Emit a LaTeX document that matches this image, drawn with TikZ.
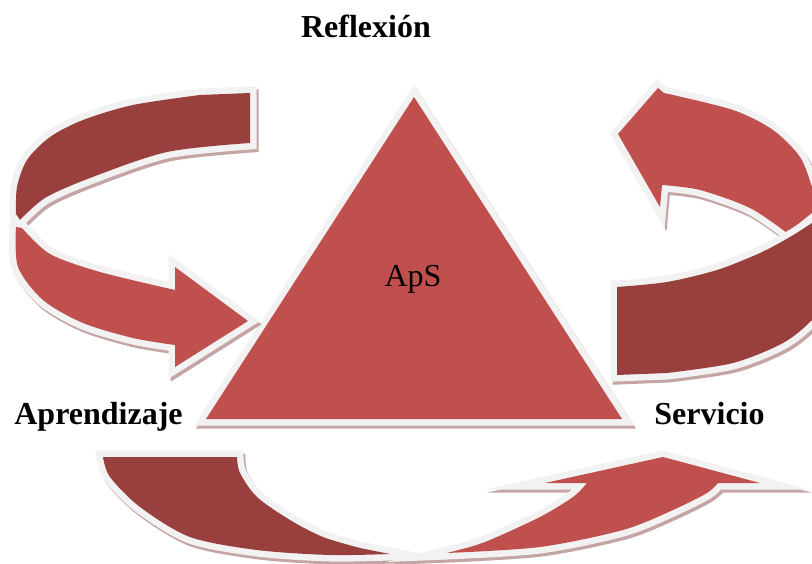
\documentclass[tikz,border=0pt]{standalone}
\usepackage{fontspec}
\setmainfont{Liberation Serif}
\definecolor{ribbonlight}{RGB}{192,80,77}
\definecolor{ribbondark}{RGB}{153,63,61}
\definecolor{rim}{RGB}{242,242,242}
\definecolor{drop}{RGB}{196,164,164}
\tikzset{
  lbl/.style={font=\fontsize{32}{38}\selectfont, text=black, inner sep=0pt, anchor=base},
  boldlbl/.style={lbl, font=\fontsize{32}{38}\selectfont\bfseries},
  rimline/.style={rim, line width=13, line join=miter, miter limit=10},
  dropline/.style={drop, line width=13, line join=miter, miter limit=10},
}
% a ribbon piece: drop shadow, light rim, coloured face
\newcommand\ribbon[2]{%
  \begin{scope}[shift={(2,3)}]
    \filldraw[dropline] #2;
  \end{scope}
  \draw[rimline] #2;
  \fill[#1] #2;
}
\begin{document}
\begin{tikzpicture}[x=1pt, y=-1pt]
\useasboundingbox (0,0) rectangle (812,564);
\clip (0,0) rectangle (812,564);

% central triangle
\ribbon{ribbonlight}{(414,97) -- (622,419) -- (206,419) -- cycle}
\coordinate (apex) at (414,97);

% upper left curved arrow (back band, then front band with head)
\ribbon{ribbondark}{(250,93) -- plot[smooth] coordinates {(250,143) (167,152) (90,178) (45,198) (20,220)} -- plot[smooth] coordinates {(16,214) (17,187) (27,160) (50,137) (83,120) (133,105) (200,95)} -- cycle}
\ribbon{ribbonlight}{plot[smooth] coordinates {(16,227) (18,267) (43,300) (83,323) (133,338) (175,345)} -- (175,367) -- (248,321) -- (175,267) -- plot[smooth] coordinates {(175,290) (100,272) (50,254) (22,228)} -- cycle}

% upper right curved arrow
\ribbon{ribbonlight}{(618,134) -- (658,88) -- plot[smooth] coordinates {(664,93) (733,110) (773,130) (800,157) (812,187) (818,208)} -- plot[smooth] coordinates {(787,233) (750,208) (700,190) (662,185)} -- (660,207) -- cycle}
\ribbon{ribbondark}{(617,375) -- plot[smooth] coordinates {(667,373) (733,363) (783,343) (812,320) (835,290)} -- plot[smooth] coordinates {(835,208) (812,223) (790,237) (760,253) (717,270) (667,282) (617,287)} -- cycle}

% lower curved arrow
\ribbon{ribbondark}{plot[smooth] coordinates {(103,457) (110,477) (140,507) (190,537) (257,550) (330,555) (390,554)} -- plot[smooth] coordinates {(360,548) (323,537) (290,520) (257,497) (240,473) (237,457)} -- cycle}
\ribbon{ribbonlight}{plot[smooth] coordinates {(447,553) (540,547) (623,530) (673,510) (707,493) (718,483)} -- (760,483) -- (663,457) -- (545,483) -- plot[smooth] coordinates {(587,483) (573,497) (540,517) (490,540) (470,547)} -- cycle}

% labels
\node[boldlbl] (refl) at (366,38) {Reflexión};
\node[boldlbl] (apr) at (98.5,424) {Aprendizaje};
\node[boldlbl] (serv) at (709.5,424) {Servicio};
\node[lbl] (aps) at (413,287) {ApS};
\end{tikzpicture}
\end{document}
